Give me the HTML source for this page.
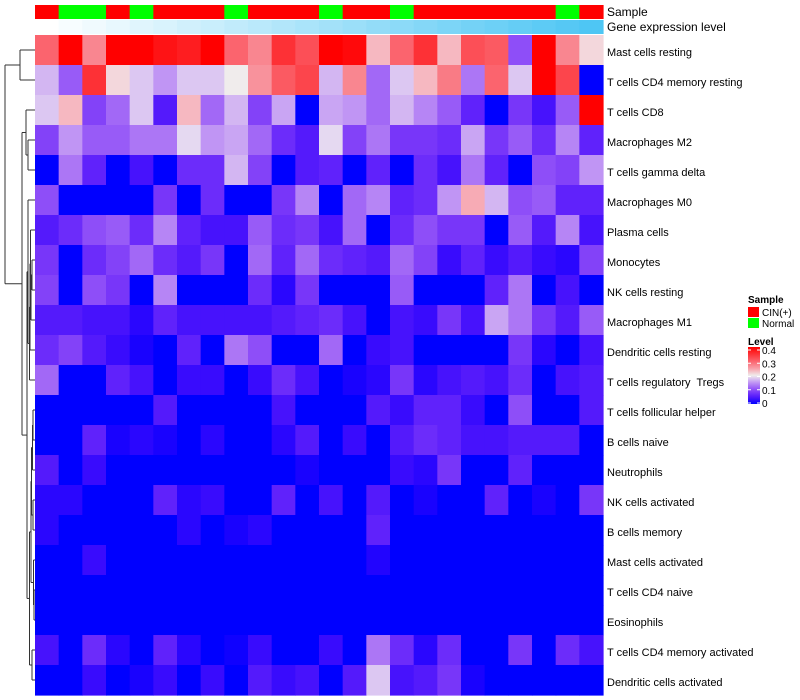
<!DOCTYPE html>
<html><head><meta charset="utf-8">
<style>
body{margin:0;background:#fff;}
svg{display:block;font-family:"Liberation Sans",sans-serif;}
text{white-space:pre;}
</style></head>
<body>
<svg id="chart" width="800" height="700" xmlns="http://www.w3.org/2000/svg">
<g id="dendro" stroke="#333" stroke-width="1" fill="none"></g>
<g id="cells"></g>
<g id="annot"></g>
<g id="labels" font-size="11" fill="#000"></g>
<text x="607" y="16" font-size="12">Sample</text>
<text x="607" y="31" font-size="12">Gene expression level</text>
<g font-size="10">
<text x="748" y="303" font-weight="bold">Sample</text>
<rect x="748" y="307" width="11" height="10" fill="#ff0000"/>
<text x="762" y="316">CIN(+)</text>
<rect x="748" y="318" width="11" height="10" fill="#00ff00"/>
<text x="762" y="327">Normal</text>
<text x="748" y="345" font-weight="bold">Level</text>
<g id="cbar"></g>
</g>
</svg>
<script>
const rowNames=["Mast cells resting","T cells CD4 memory resting","T cells CD8","Macrophages M2","T cells gamma delta","Macrophages M0","Plasma cells","Monocytes","NK cells resting","Macrophages M1","Dendritic cells resting","T cells regulatory  Tregs","T cells follicular helper","B cells naive","Neutrophils","NK cells activated","B cells memory","Mast cells activated","T cells CD4 naive","Eosinophils","T cells CD4 memory activated","Dendritic cells activated"];
const sampleGroups=["CIN","Normal","Normal","CIN","Normal","CIN","CIN","CIN","Normal","CIN","CIN","CIN","Normal","CIN","CIN","Normal","CIN","CIN","CIN","CIN","CIN","CIN","Normal","CIN"];
const r1=[.3,.4,.27,.4,.4,.38,.37,.4,.3,.27,.35,.32,.4,.39,.23,.3,.35,.23,.32,.31,.1,.4,.27,.21];
const r2=[.17,.11,.35,.21,.18,.15,.18,.18,.2,.26,.31,.33,.17,.27,.12,.18,.23,.28,.13,.3,.18,.4,.33,0];
const r3=[.18,.23,.09,.12,.18,.05,.23,.12,.17,.09,.16,0,.16,.15,.12,.17,.14,.11,.06,0,.08,.04,.11,.4];
const r4=[.09,.15,.11,.11,.13,.13,.19,.15,.16,.12,.07,.05,.19,.09,.13,.08,.08,.07,.16,.08,.11,.07,.14,.06];
const r5=[0,.13,.06,0,.04,0,.07,.07,.17,.09,0,.05,.06,0,.06,0,.07,.04,.13,.06,0,.1,.09,.15];
const r6=[.1,0,0,0,0,.08,0,.07,0,0,.08,.14,0,.12,.14,.06,.07,.15,.24,.17,.1,.11,.06,.06];
const r7=[.05,.07,.1,.11,.07,.14,.06,.04,.04,.11,.07,.08,.04,.12,0,.07,.1,.08,.08,0,.11,.05,.14,.04];
const r8=[.08,0,.07,.09,.12,.07,.05,.08,0,.12,.06,.12,.07,.06,.05,.12,.09,.03,.06,.03,.05,.03,.02,.09];
const r9=[.09,0,.1,.08,0,.14,0,0,0,.07,.02,.08,0,0,0,.11,0,0,0,.06,.13,0,.04,0];
const r10=[.05,.05,.04,.04,.02,.06,.04,.04,.04,.04,.05,.06,.07,.04,0,.04,.03,.08,.04,.16,.13,.08,.05,.11];
const r11=[.07,.09,.05,.03,.01,0,.06,0,.13,.1,0,0,.12,0,.03,.04,0,0,0,0,.08,.02,0,.04];
const r12=[.12,0,0,.06,.04,0,.03,.03,0,.03,.07,.04,0,.01,.02,.08,.02,.04,.05,.04,.07,0,.04,.05];
const r13=[0,0,0,0,0,.05,0,0,0,0,.04,0,0,0,.05,.03,.06,.06,.03,0,.1,0,0,.05];
const r14=[0,0,.06,.01,.02,.01,0,.02,0,0,.02,.05,0,.03,0,.05,.07,.06,.04,.04,.05,.05,.05,0];
const r15=[.05,0,.03,0,0,0,0,0,0,0,0,.01,0,0,0,.03,.02,.08,0,0,.06,0,0,0];
const r16=[.02,.02,0,0,0,.06,.02,.03,0,0,.06,0,.04,0,.05,0,.01,0,0,.06,0,.01,0,.08];
const r17=[.02,0,0,0,0,0,.02,0,.01,.02,0,0,0,0,.06,0,0,0,0,0,0,0,0,0];
const r18=[0,0,.03,0,0,0,0,0,0,0,0,0,0,0,.015,0,0,0,0,0,0,0,0,0];
const r19=[0,0,0,0,0,0,0,0,0,0,0,0,0,0,0,0,0,0,0,0,0,0,0,0];
const r20=[0,0,0,0,0,0,0,0,0,0,0,0,0,0,0,0,0,0,0,0,0,0,0,0];
const r21=[.04,0,.07,.02,0,.06,.02,0,.005,.03,0,0,.03,0,.13,.07,.02,.07,0,0,.08,0,.07,.04];
const r22=[0,0,.03,0,.01,.03,0,.03,0,.05,.03,.04,0,.05,.18,.04,.05,.08,.01,0,0,0,0,0];
const values=[r1,r2,r3,r4,r5,r6,r7,r8,r9,r10,r11,r12,r13,r14,r15,r16,r17,r18,r19,r20,r21,r22];
const levelTicks=["0.4","0.3","0.2","0.1","0"];

const NS="http://www.w3.org/2000/svg";
const X0=35,X1=603,Y0=35,Y1=695,VMAX=0.4;
const nCol=sampleGroups.length,nRow=rowNames.length;
const cw=(X1-X0)/nCol, rh=(Y1-Y0)/nRow;
const xPos=i=>X0+i*cw, yPos=j=>Y0+j*rh;
function color(v){
  let t=Math.max(0,Math.min(1,v/VMAX));
  let r,g,b;
  if(t<0.5){const s=t/0.5;r=Math.round(238*Math.pow(s,0.75));g=Math.round(236*Math.pow(s,1.6));b=Math.round(255-s*15);}
  else{const s=(t-0.5)/0.5;r=Math.round(240+15*Math.pow(s,0.5));g=Math.round(236*(1-Math.pow(s,0.8)));b=Math.round(236*(1-Math.pow(s,0.9)));}
  return `rgb(${r},${g},${b})`;
}
function mk(tag,attrs,parent){const e=document.createElementNS(NS,tag);for(const k in attrs)e.setAttribute(k,attrs[k]);parent.appendChild(e);return e;}
const cells=document.getElementById('cells');
values.forEach((row,j)=>row.forEach((v,i)=>{
  const r=mk('rect',{x:xPos(i),y:yPos(j),width:cw+0.6,height:rh+0.6,fill:color(v)},cells);
  
  
}));
const annot=document.getElementById('annot');
sampleGroups.forEach((g,i)=>{
  const r=mk('rect',{x:xPos(i),y:5,width:cw+0.6,height:14,fill:g==="CIN"?"#ff0000":"#00ff00"},annot);
  
  
  const t=i/(nCol-1);
  const c=`rgb(${Math.round(255-t*177)},${Math.round(255-t*57)},${Math.round(255-t*11)})`;
  const r2=mk('rect',{x:xPos(i),y:20,width:cw+0.6,height:14,fill:c},annot);
  
  
});
const labels=document.getElementById('labels');
rowNames.forEach((n,j)=>{
  const t=mk('text',{x:607,y:yPos(j)+rh/2+6},labels);t.textContent=n;
  
  
});
const cbar=document.getElementById('cbar');
const defs=mk('defs',{},cbar);
const lg=mk('linearGradient',{id:'lg',x1:0,y1:1,x2:0,y2:0},defs);
[0,0.125,0.25,0.375,0.5,0.625,0.75,0.875,1].forEach(o=>mk('stop',{offset:o,'stop-color':color(o*VMAX)},lg));
mk('rect',{x:748,y:347,width:12,height:57,fill:'url(#lg)'},cbar);
levelTicks.forEach((t,k)=>{
  const y=350+k*13.25;
  mk('line',{x1:748,x2:751,y1:y,y2:y,stroke:'#fff'},cbar);
  mk('line',{x1:757,x2:760,y1:y,y2:y,stroke:'#fff'},cbar);
  const tx=mk('text',{x:762,y:y+4,'font-size':10},cbar);tx.textContent=t;
});
const d=document.getElementById('dendro');
const cy=j=>yPos(j)+rh/2;
function seg(x1,y1,x2,y2){mk('line',{x1,y1,x2,y2},d);}
function join(xa,ya,xb,yb,xm){seg(xa,ya,xm,ya);seg(xb,yb,xm,yb);seg(xm,ya,xm,yb);return [xm,(ya+yb)/2];}
let a=join(35,cy(0),35,cy(1),20);
let b1=join(35,cy(3),35,cy(4),28);
let b=join(35,cy(2),b1[0],b1[1],26);
let m1=join(35,cy(7),35,cy(8),32);
let m2=join(m1[0],m1[1],35,cy(9),31);
let m3=join(35,cy(6),m2[0],m2[1],30.5);
let m4=join(m3[0],m3[1],35,cy(10),30);
let m5=join(m4[0],m4[1],35,cy(11),29.5);
let m6=join(35,cy(5),m5[0],m5[1],28);
let n1=join(35,cy(12),35,cy(13),33);
let n2=join(n1[0],n1[1],35,cy(14),32.5);
let n3=join(35,cy(15),35,cy(16),33);
let n4=join(n2[0],n2[1],n3[0],n3[1],31.5);
let n5=join(35,cy(18),35,cy(19),34);
let n6=join(35,cy(17),n5[0],n5[1],33.5);
let n7=join(n4[0],n4[1],n6[0],n6[1],31);
let n8=join(35,cy(20),35,cy(21),32);
let n9=join(n7[0],n7[1],n8[0],n8[1],29.5);
let c1=join(m6[0],m6[1],n9[0],n9[1],27);
let c2=join(b[0],b[1],c1[0],c1[1],22);
join(a[0],a[1],c2[0],c2[1],5);
</script>
</body></html>
